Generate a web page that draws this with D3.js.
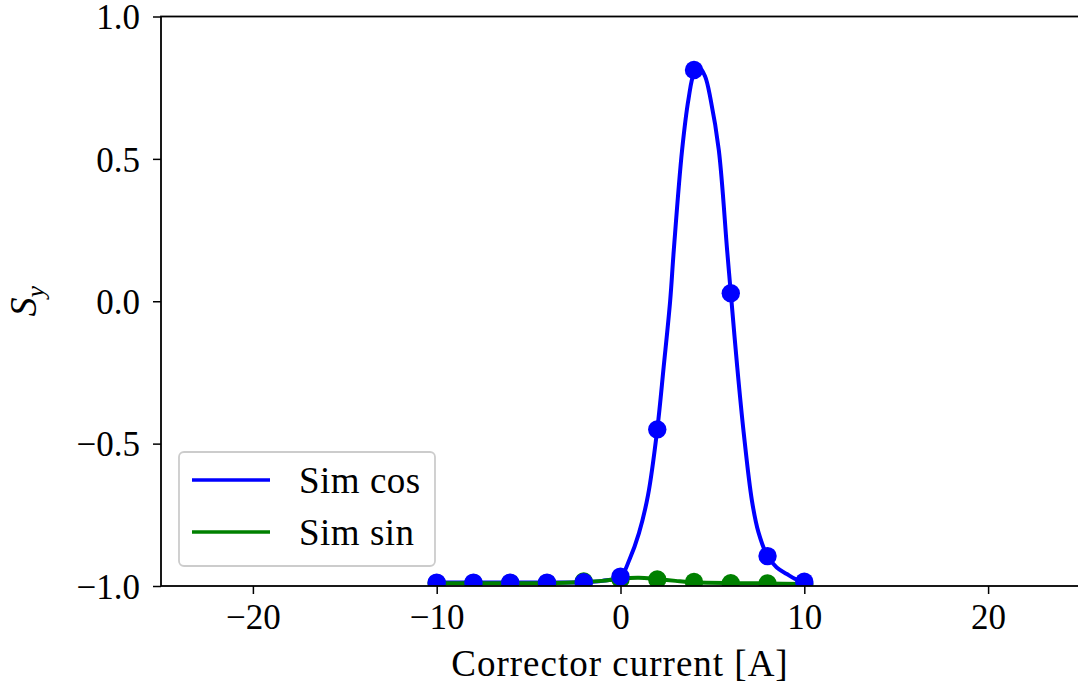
<!DOCTYPE html>
<html>
<head>
<meta charset="utf-8">
<script src="https://cdn.jsdelivr.net/npm/d3@7"></script>
<style>
  html, body { margin: 0; padding: 0; background: #fff; }
  svg { display: block; }
  text { font-family: "Liberation Serif", "DejaVu Serif", serif; fill: #000; }
</style>
</head>
<body>
<svg id="chart" width="1078" height="689"></svg>
<script>
// ---- data ----
const currents = [-10, -8, -6, -4, -2, 0, 2, 4, 6, 8, 10];
const cosPoints = [-0.988, -0.988, -0.988, -0.988, -0.987, -0.967, -0.45, 0.812, 0.028, -0.895, -0.985];
const sinPoints = [-0.99, -0.99, -0.99, -0.99, -0.984, -0.976, -0.977, -0.986, -0.99, -0.991, -0.993];

const cosCurveX = [-10, -8, -6, -4, -2, -1, 0, 0.5, 1, 1.5, 2, 2.35, 2.7, 2.9, 3.35, 3.7, 4.0, 4.3, 4.6, 4.9, 5.35, 5.8, 6.0, 6.35, 6.7, 7.15, 7.5, 8.0, 8.5, 9.05, 9.5, 10];
const cosCurveY = [-0.988, -0.988, -0.988, -0.988, -0.987, -0.982, -0.967, -0.905, -0.815, -0.68, -0.45, -0.23, 0.0, 0.18, 0.53, 0.71, 0.80, 0.82, 0.79, 0.71, 0.53, 0.18, 0.03, -0.23, -0.46, -0.70, -0.81, -0.895, -0.935, -0.958, -0.975, -0.985];

const sinCurveX = [-10, -8, -6, -4, -2, -1, 0, 1, 2, 3, 4, 6, 8, 10];
const sinCurveY = [-0.99, -0.99, -0.99, -0.99, -0.986, -0.982, -0.974, -0.971, -0.976, -0.982, -0.987, -0.99, -0.991, -0.993];

const xTicks = [-20, -10, 0, 10, 20];
const yTicks = [-1.0, -0.5, 0.0, 0.5, 1.0];
const seriesNames = ["Sim cos", "Sim sin"];
const seriesColors = ["#0000ff", "#008000"];
const xLabel = "Corrector current [A]";

// ---- layout ----
const svg = d3.select("#chart");
const L = 161, R = 1080, T = 16.5, B = 586;
const x = d3.scaleLinear().domain([-25, 25]).range([L, R]);
const y = d3.scaleLinear().domain([-1, 1]).range([B, T]);
const fmt = v => (v < 0 ? "\u2212" : "") + d3.format(".1f")(Math.abs(v));
const fmtX = v => (v < 0 ? "\u2212" : "") + Math.abs(v);

const plot = svg.append("g");
plot.append("clipPath").attr("id", "clip").append("rect")
  .attr("x", L).attr("y", T - 10).attr("width", R - L).attr("height", B - T + 10);

const g = plot.append("g").attr("clip-path", "url(#clip)");
const line = d3.line().x(d => x(d[0])).y(d => y(d[1])).curve(d3.curveCatmullRom.alpha(0.5));

// lines
g.append("path").datum(d3.zip(cosCurveX, cosCurveY)).attr("d", line)
  .attr("fill", "none").attr("stroke", seriesColors[0]).attr("stroke-width", 4).attr("stroke-linejoin", "round");
g.append("path").datum(d3.zip(sinCurveX, sinCurveY)).attr("d", line)
  .attr("fill", "none").attr("stroke", seriesColors[1]).attr("stroke-width", 4).attr("stroke-linejoin", "round");

// markers
g.selectAll("circle.sin").data(d3.zip(currents, sinPoints)).join("circle").attr("class", "sin")
  .attr("cx", d => x(d[0])).attr("cy", d => y(d[1])).attr("r", 9.2).attr("fill", seriesColors[1]);
g.selectAll("circle.cos").data(d3.zip(currents, cosPoints)).join("circle").attr("class", "cos")
  .attr("cx", d => x(d[0])).attr("cy", d => y(d[1])).attr("r", 9.2).attr("fill", seriesColors[0]);

// frame
svg.append("rect").attr("x", L).attr("y", T).attr("width", R - L).attr("height", B - T)
  .attr("fill", "none").attr("stroke", "#000").attr("stroke-width", 1.8);

// x axis
const xAxis = svg.append("g").attr("transform", `translate(0,${B})`)
  .call(d3.axisBottom(x).tickValues(xTicks).tickSize(8).tickPadding(10).tickFormat(fmtX));
xAxis.select(".domain").remove();
xAxis.selectAll(".tick line").attr("stroke", "#000").attr("stroke-width", 1.5);
xAxis.selectAll(".tick text").attr("font-size", 35).attr("font-family", "Liberation Serif").attr("dy", "0.71em");

// y axis
const yAxis = svg.append("g").attr("transform", `translate(${L},0)`)
  .call(d3.axisLeft(y).tickValues(yTicks).tickSize(8).tickPadding(13).tickFormat(fmt));
yAxis.select(".domain").remove();
yAxis.selectAll(".tick line").attr("stroke", "#000").attr("stroke-width", 1.5);
yAxis.selectAll(".tick text").attr("font-size", 35).attr("font-family", "Liberation Serif").attr("dy", "0.35em");

// axis labels
svg.append("text").attr("x", 620).attr("y", 676).attr("text-anchor", "middle")
  .attr("font-size", 37).attr("letter-spacing", 1).text(xLabel);
const yl = svg.append("text").attr("transform", `translate(36,${(T + B) / 2}) rotate(-90)`)
  .attr("text-anchor", "middle").attr("font-size", 38);
yl.append("tspan").attr("font-style", "italic").text("S");
yl.append("tspan").attr("font-style", "italic").attr("font-size", 26).attr("dy", 8).text("y");

// legend
const lg = svg.append("g");
lg.append("rect").attr("x", 179).attr("y", 452).attr("width", 256).attr("height", 114).attr("rx", 5)
  .attr("fill", "#fff").attr("fill-opacity", 0.8).attr("stroke", "#cccccc").attr("stroke-width", 1.8);
seriesNames.forEach((name, i) => {
  const yy = 480 + i * 52;
  lg.append("line").attr("x1", 192).attr("x2", 270).attr("y1", yy).attr("y2", yy)
    .attr("stroke", seriesColors[i]).attr("stroke-width", 3.6);
  lg.append("text").attr("x", 299).attr("y", yy + 13).attr("font-size", 37).attr("letter-spacing", 0.5).text(name);
});
</script>
</body>
</html>
